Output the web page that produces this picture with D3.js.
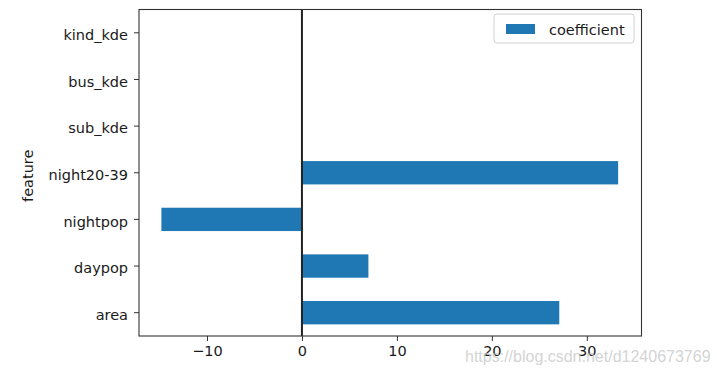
<!DOCTYPE html>
<html><head><meta charset="utf-8">
<script src="https://cdn.jsdelivr.net/npm/d3@7"></script>
<style>body{margin:0;background:#fff}svg{display:block}</style>
</head><body>
<svg id="chart" width="717" height="375"></svg>
<script>
const categories = ["area", "daypop", "nightpop", "night20-39", "sub_kde", "bus_kde", "kind_kde"];
const coefficients = [27.1, 7.0, -14.8, 33.3, 0, 0, 0];
const xTicks = [-10, 0, 10, 20, 30];
const seriesName = "coefficient";
const axisLabel = "feature";

const svg = d3.select("#chart");
const L = 139, R = 641.5, T = 9.5, B = 336;
const font = "DejaVu Sans, sans-serif";
const fs = 14.5;

const x = d3.scaleLinear().domain([-17.16, 35.76]).range([L, R]);
const y = d3.scaleBand().domain(categories.slice().reverse()).range([T, B]).paddingInner(0.5).paddingOuter(0.25);

// bars
svg.append("g").selectAll("rect").data(categories.map((c, i) => ({c, v: coefficients[i]})).filter(d => d.v !== 0))
  .join("rect")
  .attr("x", d => x(Math.min(0, d.v)))
  .attr("width", d => Math.abs(x(d.v) - x(0)))
  .attr("y", d => y(d.c))
  .attr("height", y.bandwidth())
  .attr("fill", "#1f77b4");

// vertical zero line
svg.append("line").attr("x1", x(0)).attr("x2", x(0)).attr("y1", T).attr("y2", B)
  .attr("stroke", "#222").attr("stroke-width", 2);

// frame
svg.append("rect").attr("x", L).attr("y", T).attr("width", R - L).attr("height", B - T)
  .attr("fill", "none").attr("stroke", "#333").attr("stroke-width", 1.1);

// x axis
const xa = svg.append("g").attr("transform", `translate(0,${B})`)
  .call(d3.axisBottom(x).tickValues(xTicks).tickSize(5).tickPadding(5).tickFormat(d => d < 0 ? "\u2212" + Math.abs(d) : d));
xa.select(".domain").remove();
xa.selectAll("line").attr("stroke", "#333").attr("stroke-width", 1);
xa.selectAll("text").attr("font-family", font).attr("font-size", fs).attr("fill", "#1a1a1a");

// y axis
const ya = svg.append("g").attr("transform", `translate(${L},0)`)
  .call(d3.axisLeft(y).tickSize(5).tickPadding(6));
ya.select(".domain").remove();
ya.selectAll("line").attr("stroke", "#333").attr("stroke-width", 1);
ya.selectAll("text").attr("font-family", font).attr("font-size", fs).attr("fill", "#1a1a1a").attr("dy", "0.5em");

// y label
svg.append("text").attr("transform", `translate(33,${(T + B) / 2 + 3}) rotate(-90)`)
  .attr("text-anchor", "middle").attr("font-family", font).attr("font-size", fs).attr("fill", "#1a1a1a")
  .text(axisLabel);

// legend
const lg = svg.append("g");
lg.append("rect").attr("x", 494).attr("y", 14).attr("width", 140).attr("height", 29).attr("rx", 3)
  .attr("fill", "#fff").attr("stroke", "#d0d0d0").attr("stroke-width", 1);
lg.append("rect").attr("x", 506).attr("y", 24).attr("width", 29).attr("height", 10).attr("fill", "#1f77b4");
lg.append("text").attr("x", 549).attr("y", 34.5).attr("font-family", font).attr("font-size", fs).attr("fill", "#1a1a1a").text(seriesName);

// watermark
svg.append("text").attr("x", 465).attr("y", 362).attr("font-family", "Liberation Sans, Arial, sans-serif")
  .attr("font-size", 16).attr("fill", "#c8c8c8").attr("fill-opacity", 0.8).text("https://blog.csdn.net/d1240673769");
</script>
</body></html>
